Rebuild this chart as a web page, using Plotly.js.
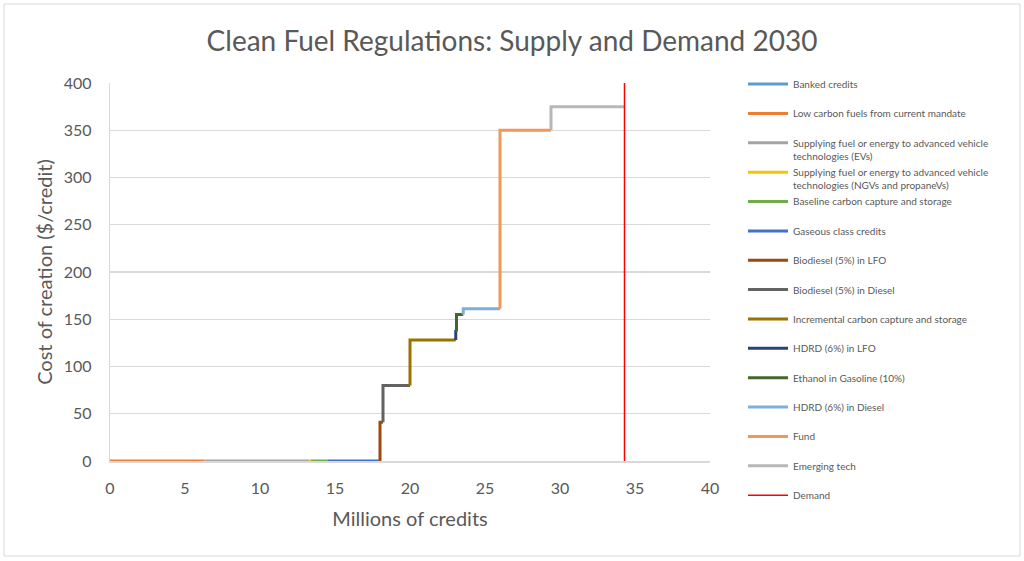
<!DOCTYPE html>
<html>
<head>
<meta charset="utf-8">
<script src="https://cdn.plot.ly/plotly-3.0.1.min.js"></script>
<style>
html,body{margin:0;padding:0;background:#fff;}
#chart{width:1024px;height:561px;}
</style>
</head>
<body>
<div id="chart"></div>
<script>
// Supply step series (each step: start x, end x, cost level)
const seriesNames = [
  "Banked credits",
  "Low carbon fuels from current mandate",
  "Supplying fuel or energy to advanced vehicle<br>technologies (EVs)",
  "Supplying fuel or energy to advanced vehicle<br>technologies (NGVs and propaneVs)",
  "Baseline carbon capture and storage",
  "Gaseous class credits",
  "Biodiesel (5%) in LFO",
  "Biodiesel (5%) in Diesel",
  "Incremental carbon capture and storage",
  "HDRD (6%) in LFO",
  "Ethanol in Gasoline (10%)",
  "HDRD (6%) in Diesel",
  "Fund",
  "Emerging tech"
];
const stepStart = [0, 0, 6.3, 13.3, 13.4, 14.5, 18.0, 18.2, 20.0, 23.05, 23.1, 23.55, 26.0, 29.4];
const stepEnd   = [0, 6.3, 13.3, 13.4, 14.5, 18.0, 18.2, 20.0, 23.05, 23.1, 23.55, 26.0, 29.4, 34.3];
const stepCost  = [0, 0, 0, 0, 0, 0, 41, 80, 128, 137, 155, 161, 350, 375];
const seriesColors = ["#5B9BD5","#ED7D31","#A5A5A5","#FFC000","#70AD47","#4472C4","#9E480E","#636363","#997300","#264478","#43682B","#7CAFDD","#F1975A","#B7B7B7"];

// Demand
const demandName = "Demand";
const demandX = [34.3, 34.3];
const demandY = [0, 400];

// legend rows all get the same height (two text lines), as in the reference
function legendLabel(s){ return s.indexOf("<br>") >= 0 ? s : s + "<br>&nbsp;"; }

const traces = [];
for (let i = 0; i < seriesNames.length; i++) {
  const prev = i === 0 ? 0 : stepCost[i - 1];
  traces.push({
    type: "scatter", mode: "lines",
    name: legendLabel(seriesNames[i]),
    legendgroup: "g" + i,
    x: [stepStart[i], stepStart[i], stepEnd[i]],
    y: [prev, stepCost[i], stepCost[i]],
    line: {color: seriesColors[i], width: 3},
    hoverinfo: "skip"
  });
}
traces.push({
  type: "scatter", mode: "lines",
  name: legendLabel(demandName),
  legendgroup: "gd",
  x: demandX, y: demandY,
  line: {color: "#FF0000", width: 1.5},
  hoverinfo: "skip"
});

const fontFam = "Lato, 'Open Sans', sans-serif";
const layout = {
  width: 1024, height: 561,
  paper_bgcolor: "#fff", plot_bgcolor: "#fff",
  margin: {l: 110, r: 314, t: 83, b: 100},
  font: {family: fontFam, color: "#595959"},
  title: {text: "Clean Fuel Regulations: Supply and Demand 2030",
          font: {size: 28, color: "#595959", family: fontFam},
          x: 0.5, xref: "container", y: 0.944, yref: "container", xanchor: "center"},
  xaxis: {
    range: [0, 40], tickvals: [0,5,10,15,20,25,30,35,40],
    showgrid: false, zeroline: false,
    showline: true, linecolor: "#D9D9D9", linewidth: 1.5,
    ticks: "", ticklabelstandoff: 12,
    tickfont: {size: 16, color: "#595959"},
    title: {text: "Millions of credits", font: {size: 20, color: "#595959"}, standoff: 16}
  },
  yaxis: {
    range: [0, 400], tickvals: [0,50,100,150,200,250,300,350,400],
    showgrid: true, gridcolor: "#D9D9D9", gridwidth: 1.2,
    zeroline: false,
    showline: true, linecolor: "#D9D9D9", linewidth: 1.2,
    ticks: "", ticklabelstandoff: 14,
    tickfont: {size: 16, color: "#595959"},
    title: {text: "Cost of creation ($/credit)", font: {size: 20, color: "#595959"}, standoff: 5}
  },
  showlegend: true,
  legend: {
    x: 1.055, xanchor: "left", y: 1.0315, yanchor: "top",
    font: {size: 10, color: "#595959", family: fontFam},
    traceorder: "grouped", tracegroupgap: 0.36, valign: "top",
    bgcolor: "rgba(0,0,0,0)", itemwidth: 40, maxheight: 1
  },
  shapes: [{
    type: "rect", xref: "paper", yref: "paper", layer: "below",
    x0: 0, x1: 1, y0: 0, y1: 1,
    line: {color: "#D9D9D9", width: 1}
  }]
};

// Outer chart border, converted from a pixel box to paper coordinates
const pw = 1024 - 110 - 314, ph = 561 - 83 - 100;
function px2x(p){ return (p - 110) / pw; }
function py2y(p){ return (561 - 100 - p) / ph; }
layout.shapes[0].x0 = px2x(4); layout.shapes[0].x1 = px2x(1020);
layout.shapes[0].y0 = py2y(556); layout.shapes[0].y1 = py2y(4);

Plotly.newPlot("chart", traces, layout, {displayModeBar: false, staticPlot: true});
</script>
</body>
</html>
